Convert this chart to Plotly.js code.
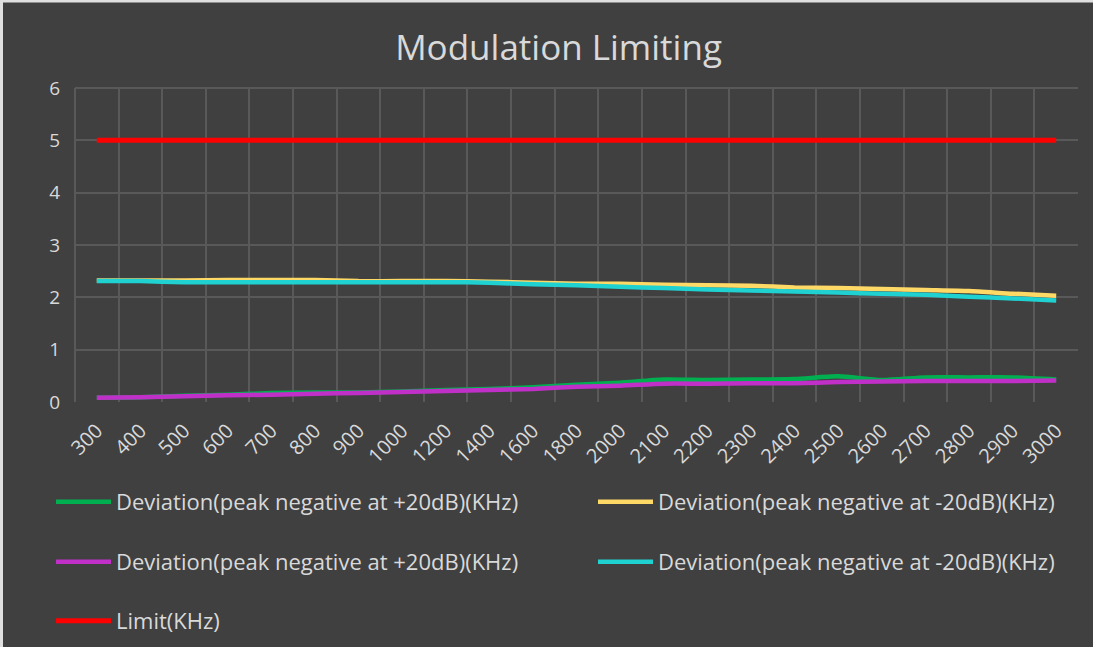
<!DOCTYPE html>
<html>
<head>
<meta charset="utf-8">
<script src="https://cdn.plot.ly/plotly-3.0.1.min.js"></script>
<style>html,body{margin:0;padding:0;background:#404040;}#chart{width:1093px;height:647px;}</style>
</head>
<body>
<div id="chart"></div>
<script>
const categories = ['300','400','500','600','700','800','900','1000','1200','1400','1600','1800','2000','2100','2200','2300','2400','2500','2600','2700','2800','2900','3000'];
const greenPlus20 = [0.08,0.09,0.12,0.14,0.17,0.18,0.18,0.20,0.23,0.25,0.28,0.33,0.37,0.43,0.42,0.43,0.44,0.49,0.42,0.47,0.47,0.47,0.43];
const yellowMinus20 = [2.32,2.32,2.32,2.33,2.33,2.33,2.31,2.31,2.31,2.30,2.28,2.26,2.26,2.24,2.23,2.22,2.19,2.18,2.16,2.14,2.12,2.07,2.03];
const purplePlus20 = [0.08,0.09,0.11,0.13,0.14,0.16,0.17,0.19,0.21,0.23,0.25,0.29,0.31,0.35,0.35,0.36,0.36,0.38,0.39,0.40,0.40,0.40,0.41];
const cyanMinus20 = [2.31,2.31,2.29,2.29,2.29,2.29,2.29,2.29,2.29,2.28,2.25,2.23,2.20,2.18,2.15,2.13,2.11,2.09,2.07,2.05,2.01,1.98,1.94];
const limit = [5,5,5,5,5,5,5,5,5,5,5,5,5,5,5,5,5,5,5,5,5,5,5];
const seriesNames = ['Deviation(peak negative at +20dB)(KHz)','Deviation(peak negative at -20dB)(KHz)','Deviation(peak negative at +20dB)(KHz)','Deviation(peak negative at -20dB)(KHz)','Limit(KHz)'];

const FONT = 'Open Sans, Noto Sans, sans-serif';
const W = 1093, H = 647;
function tr(y, name, color, legend, w) {
  return {x: categories, y: y, name: name, type: 'scatter', mode: 'lines',
    line: {color: color, width: w, shape: 'spline', smoothing: 0.6}, legend: legend};
}
const data = [
  tr(greenPlus20, seriesNames[0], '#00B050', 'legend', 4.5),
  tr(yellowMinus20, seriesNames[1], '#FFD966', 'legend2', 4.5),
  tr(purplePlus20, seriesNames[2], '#C030C8', 'legend3', 4.5),
  tr(cyanMinus20, seriesNames[3], '#1FD1D1', 'legend4', 4.5),
  tr(limit, seriesNames[4], '#FF0000', 'legend5', 5)
];
function leg(px, py) {
  return {orientation: 'h', xref: 'container', yref: 'container', xanchor: 'left', yanchor: 'middle',
    x: px / W, y: 1 - py / H, bgcolor: 'rgba(0,0,0,0)', borderwidth: 0,
    font: {family: FONT, size: 22, color: '#D9D9D9'}, itemwidth: 55,
    itemclick: false, itemdoubleclick: false};
}
const layout = {
  width: W, height: H,
  paper_bgcolor: '#404040', plot_bgcolor: '#404040',
  margin: {l: 75, r: 15, t: 88, b: 245, autoexpand: false},
  font: {family: FONT, color: '#D9D9D9'},
  title: {text: 'Modulation Limiting', x: 0.511, xanchor: 'center', xref: 'container',
    y: 1 - 48 / H, yanchor: 'middle', yref: 'container',
    font: {family: FONT, size: 35, color: '#D9D9D9'}},
  xaxis: {type: 'category', range: [-0.5, 22.5], tickson: 'boundaries', showgrid: true,
    gridcolor: '#595959', gridwidth: 2, ticks: '', tickangle: -45, zeroline: false,
    showline: false, ticklabelstandoff: 12, tickfont: {family: FONT, size: 20, color: '#D9D9D9'}},
  yaxis: {range: [0, 6], dtick: 1, showgrid: true, gridcolor: '#595959', gridwidth: 2,
    zeroline: false, showline: false, ticks: '', ticklabelstandoff: 14,
    tickfont: {family: FONT, size: 19, color: '#D9D9D9'}},
  showlegend: true,
  legend: leg(51, 502),
  legend2: leg(593, 502),
  legend3: leg(51, 562),
  legend4: leg(593, 562),
  legend5: leg(51, 621),
  shapes: [
    {type: 'line', xref: 'paper', yref: 'paper', x0: -75/1003, x1: 1018/1003, y0: 402/314, y1: 402/314,
      line: {color: '#E0E0E0', width: 5}},
    {type: 'line', xref: 'paper', yref: 'paper', x0: -75/1003, x1: -75/1003, y0: 402/314, y1: -245/314,
      line: {color: '#E0E0E0', width: 6}},
    {type: 'line', xref: 'paper', yref: 'paper', x0: 0, x1: 0, y0: 0, y1: 1,
      line: {color: '#595959', width: 2}},
    {type: 'line', xref: 'paper', yref: 'paper', x0: 0, x1: 1, y0: 1, y1: 1,
      line: {color: '#595959', width: 2}}
  ]
};
Plotly.newPlot('chart', data, layout, {displayModeBar: false, staticPlot: true});
</script>
</body>
</html>
